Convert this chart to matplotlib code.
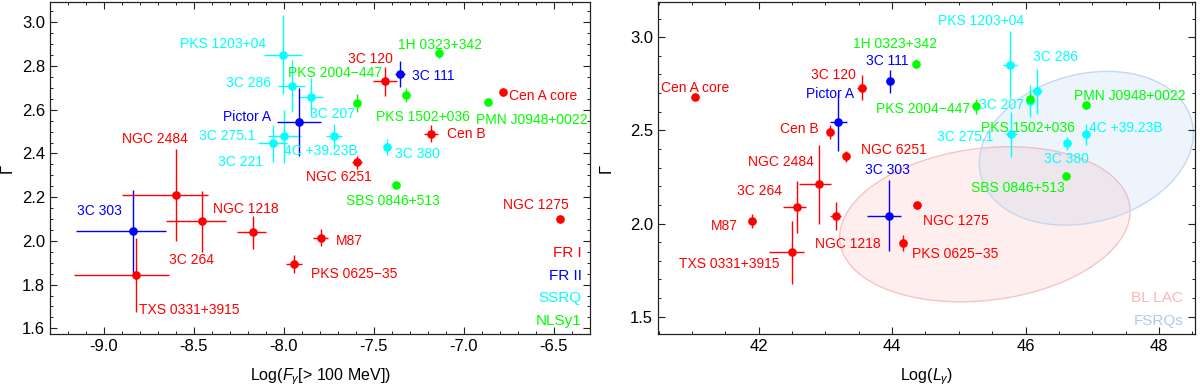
import numpy as np
import matplotlib
matplotlib.use('Agg')
import matplotlib.pyplot as plt
from matplotlib.ticker import MultipleLocator

plt.rcParams['font.family'] = ['Liberation Sans', 'DejaVu Sans']
plt.rcParams['mathtext.fontset'] = 'custom'
plt.rcParams['mathtext.rm'] = 'Liberation Sans'
plt.rcParams['mathtext.it'] = 'Liberation Sans:italic'

# ---------------- data ----------------
names = ['Cen A core', 'Cen B', '3C 120', 'NGC 6251', 'NGC 2484', '3C 264', 'NGC 1218',
         'M87', 'PKS 0625\u221235', 'NGC 1275', 'TXS 0331+3915',
         '3C 111', 'Pictor A', '3C 303',
         'PKS 1203+04', '3C 286', '3C 207', '3C 275.1', '3C 221', '4C +39.23B', '3C 380',
         '1H 0323+342', 'PKS 2004\u2212447', 'PKS 1502+036', 'PMN J0948+0022', 'SBS 0846+513']
classes = ['FR I'] * 11 + ['FR II'] * 3 + ['SSRQ'] * 7 + ['NLSy1'] * 5
gamma = [2.68, 2.49, 2.73, 2.36, 2.21, 2.09, 2.04, 2.015, 1.895, 2.10, 1.845,
         2.763, 2.545, 2.043,
         2.852, 2.709, 2.657, 2.478, 2.446, 2.478, 2.431,
         2.858, 2.630, 2.668, 2.637, 2.256]
gamma_err = [0.01, 0.038, 0.065, 0.03, 0.21, 0.14, 0.076, 0.038, 0.042, 0.01, 0.17,
             0.06, 0.155, 0.19,
             0.18, 0.12, 0.087, 0.12, 0.084, 0.057, 0.036,
             0.023, 0.04, 0.033, 0.01, 0.01]
logF = [-6.785, -7.183, -7.439, -7.596, -8.602, -8.457, -8.174, -7.796, -7.944, -6.467, -8.824,
        -7.356, -7.915, -8.837,
        -8.005, -7.957, -7.852, -7.998, -8.063, -7.722, -7.430,
        -7.141, -7.596, -7.322, -6.867, -7.380]
logF_err_lo = [0.01, 0.04, 0.068, 0.028, 0.30, 0.20, 0.089, 0.042, 0.045, 0.01, 0.34,
               0.028, 0.122, 0.32,
               0.105, 0.074, 0.067, 0.09, 0.08, 0.043, 0.015,
               0.01, 0.01, 0.01, 0.01, 0.01]
logF_err_hi = [0.01, 0.04, 0.068, 0.028, 0.18, 0.135, 0.072, 0.042, 0.045, 0.01, 0.187,
               0.028, 0.122, 0.18,
               0.105, 0.074, 0.067, 0.09, 0.08, 0.043, 0.015,
               0.01, 0.01, 0.01, 0.01, 0.01]
logL = [41.05, 43.07, 43.546, 43.31, 42.91, 42.571, 43.156, 41.906, 44.17, 44.37, 42.496,
        43.97, 43.195, 43.95,
        45.76, 46.17, 46.07, 45.78, np.nan, 46.90, 46.62,
        44.36, 45.26, 46.06, 46.90, 46.61]

colors = {'FR I': '#ff0000', 'FR II': '#0000ff', 'SSRQ': '#00ffff', 'NLSy1': '#00ff00'}
legend_classes = ['FR I', 'FR II', 'SSRQ', 'NLSy1']

# label offsets (pixels) relative to points
off_left = {
    'PKS 1203+04': (-59.7, 10.3), '3C 286': (-43.7, 2.7), 'Pictor A': (-51.8, 4.4),
    '3C 275.1': (-57.3, 0), '3C 221': (-31.7, -19), 'NGC 2484': (-20.9, 56.4),
    'PKS 2004\u2212447': (-21.7, 30), '3C 120': (-14.7, 22.7), '1H 0323+342': (1, 8.3),
    '3C 111': (33.3, -2), 'PKS 1502+036': (17, -21.7), 'Cen A core': (40.3, -3.3),
    'PMN J0948+0022': (43.7, -18.3), 'Cen B': (34.8, -0.3), '3C 207': (21.8, -16.6),
    '4C +39.23B': (-13, -15), '3C 380': (31.1, -7.3), 'NGC 6251': (-17.9, -14.3),
    'SBS 0846+513': (-2.9, -15.7), 'NGC 1275': (-24.5, 13.6), 'M87': (28.6, -3.7),
    'PKS 0625\u221235': (60, -10), '3C 303': (-33.8, 20), 'NGC 1218': (-6.9, 23.4),
    '3C 264': (-10, -38.6), 'TXS 0331+3915': (53.8, -35)}
off_right = {
    'Cen A core': (-0.6, 8.4), '3C 120': (-28.9, 12.3), '3C 111': (-3, 20.7),
    '1H 0323+342': (-20.7, 19.7), 'Pictor A': (-8.8, 28), 'Cen B': (-30.3, 3.3),
    'NGC 2484': (-38.8, 22.7), 'NGC 6251': (47.8, 6.7), '3C 303': (-1.2, 45.3),
    '3C 264': (-37.5, 16), 'M87': (-28.1, -5), 'NGC 1218': (12.3, -28.3),
    'TXS 0331+3915': (-62.5, -12), 'NGC 1275': (39.5, -15.7), 'PKS 0625\u221235': (52, -11.3),
    'PKS 1203+04': (-28.1, 44), '3C 286': (18.5, 34.4), 'PMN J0948+0022': (44.3, 9.3),
    'PKS 2004\u2212447': (-53, -3.3), '3C 207': (-28.7, -4.3), 'PKS 1502+036': (-2, -29.3),
    '3C 275.1': (-45.2, -2.4), '4C +39.23B': (40.3, 6.6), '3C 380': (-0.5, -15.7),
    'SBS 0846+513': (-48, -12.6)}

# ellipse regions in right panel: centre (logL, Gamma), semi-axes (px), tilt (deg)
bl_center, bl_axes, bl_tilt = (45.39, 1.996), (146, 76), 7
fs_center, fs_axes, fs_tilt = (46.91, 2.404), (109, 74), 15

# ---------------- figure ----------------
fig = plt.figure(figsize=(12, 3.89), dpi=100)
axL = fig.add_axes([50 / 1200, 1 - 334.3 / 389, 540 / 1200, 332.3 / 389])
axR = fig.add_axes([658 / 1200, 1 - 334.3 / 389, 537 / 1200, 332.3 / 389])

axL.set_xlim(-9.3, -6.3)
axL.set_ylim(1.5726, 3.093)
axR.set_xlim(40.49, 48.54)
axR.set_ylim(1.4055, 3.189)

frame_col = '#222222'
for ax in (axL, axR):
    for s in ax.spines.values():
        s.set_color(frame_col)
        s.set_linewidth(0.9)
    ax.tick_params(which='both', direction='in', top=True, right=True, colors=frame_col,
                   labelcolor='black', labelsize=12)
    ax.tick_params(which='major', length=5, width=0.8)
    ax.tick_params(which='minor', length=2.5, width=0.7)

axL.xaxis.set_major_locator(MultipleLocator(0.5))
axL.xaxis.set_minor_locator(MultipleLocator(0.1))
axL.yaxis.set_major_locator(MultipleLocator(0.2))
axL.yaxis.set_minor_locator(MultipleLocator(0.05))
axL.xaxis.set_major_formatter(matplotlib.ticker.FormatStrFormatter('%.1f'))
axL.yaxis.set_major_formatter(matplotlib.ticker.FormatStrFormatter('%.1f'))
axR.xaxis.set_major_locator(MultipleLocator(2))
axR.xaxis.set_minor_locator(MultipleLocator(0.5))
axR.yaxis.set_major_locator(MultipleLocator(0.5))
axR.yaxis.set_minor_locator(MultipleLocator(0.1))
axR.yaxis.set_major_formatter(matplotlib.ticker.FormatStrFormatter('%.1f'))

# ellipses (drawn with pixel-scale shape converted to data units)
def draw_ellipse(ax, center, axes_px, tilt, face, edge):
    x0, x1 = ax.get_xlim()
    y0, y1 = ax.get_ylim()
    sx = 537 / (x1 - x0)
    sy = 332.3 / (y1 - y0)
    t = np.linspace(0, 2 * np.pi, 300)
    a, b = axes_px
    ph = np.deg2rad(tilt)
    dx = a * np.cos(t) * np.cos(ph) - b * np.sin(t) * np.sin(ph)
    dy = a * np.cos(t) * np.sin(ph) + b * np.sin(t) * np.cos(ph)
    ax.fill(center[0] + dx / sx, center[1] + dy / sy, facecolor=face, edgecolor=edge,
            linewidth=1.0, zorder=0)

draw_ellipse(axR, bl_center, bl_axes, bl_tilt, (1.0, 0.55, 0.55, 0.14), '#f7c4c4')
draw_ellipse(axR, fs_center, fs_axes, fs_tilt, (0.55, 0.72, 0.93, 0.14), '#c4d8f2')

names_a = np.array(names)
cls_a = np.array(classes)
g = np.array(gamma)
ge = np.array(gamma_err)
F = np.array(logF)
Flo = np.array(logF_err_lo)
Fhi = np.array(logF_err_hi)
L = np.array(logL)

draw_order = ['SSRQ', 'NLSy1', 'FR II', 'FR I']
for c in draw_order:
    m = cls_a == c
    axL.errorbar(F[m], g[m], xerr=[Flo[m], Fhi[m]], yerr=ge[m], fmt='o', color=colors[c],
                 ms=5.2, lw=1.0, capsize=0, zorder=3)
    mr = m & ~np.isnan(L)
    axR.errorbar(L[mr], g[mr], xerr=[Flo[mr], Fhi[mr]], yerr=ge[mr], fmt='o', color=colors[c],
                 ms=5.2, lw=1.0, capsize=0, zorder=3)

for i, n in enumerate(names):
    col = colors[classes[i]]
    if n in off_left:
        axL.annotate(n, (F[i], g[i]), xytext=off_left[n], textcoords='offset pixels',
                     ha='center', va='center', color=col, fontsize=10, zorder=4)
    if n in off_right and not np.isnan(L[i]):
        axR.annotate(n, (L[i], g[i]), xytext=off_right[n], textcoords='offset pixels',
                     ha='center', va='center', color=col, fontsize=10, zorder=4)

# class legend (left)
leg_y = [0.2437, 0.1763, 0.110, 0.040]
for c, yy in zip(legend_classes, leg_y):
    axL.text(0.985, yy, c, transform=axL.transAxes, ha='right', va='center',
             color=colors[c], fontsize=11)

axR.text(0.978, 0.108, 'BL LAC', transform=axR.transAxes, ha='right', va='center',
         color='#f6b8b2', fontsize=11)
axR.text(0.978, 0.040, 'FSRQs', transform=axR.transAxes, ha='right', va='center',
         color='#acc9f0', fontsize=11)

axL.set_xlabel(r'Log($F_{\gamma}$[> 100 MeV])', fontsize=11.5)
axR.set_xlabel(r'Log($L_{\gamma}$)', fontsize=11.5)
axL.set_ylabel('\u0393', fontsize=12)
axR.set_ylabel('\u0393', fontsize=12)
axL.xaxis.set_label_coords(0.5, -0.097)
axR.xaxis.set_label_coords(0.5, -0.097)
axL.yaxis.set_label_coords(-0.066, 0.5)
axR.yaxis.set_label_coords(-0.082, 0.5)

fig.savefig('out.png', dpi=100)
